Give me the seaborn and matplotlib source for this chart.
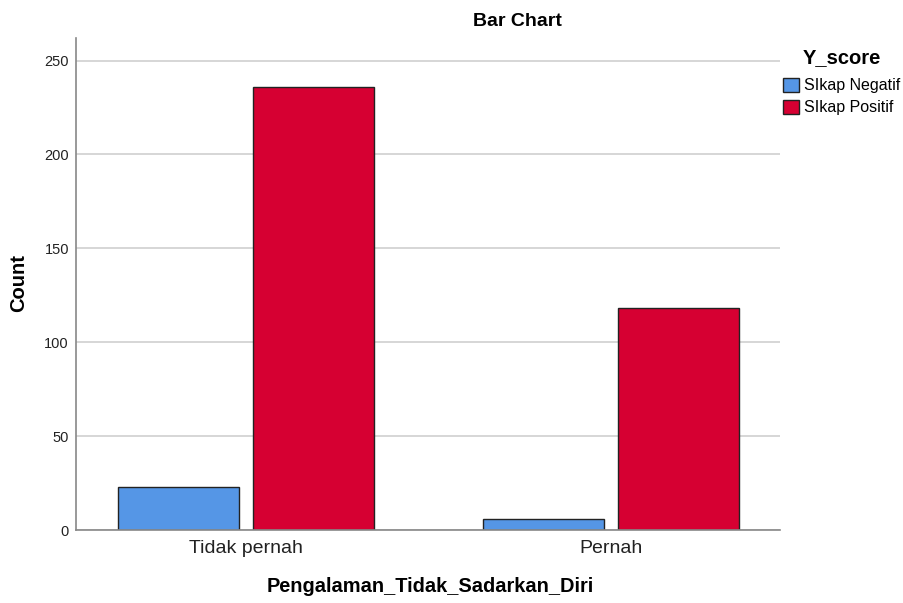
import numpy as np
import pandas as pd
import matplotlib
matplotlib.use('Agg')
import matplotlib.pyplot as plt
import seaborn as sns
from matplotlib.patches import Patch

categories = ['Tidak pernah', 'Pernah']
groups = ['SIkap Negatif', 'SIkap Positif']
negatif = [23, 6]
positif = [236, 118]
colors = ['#5596E6', '#D60032']

df = pd.DataFrame({
    'Pengalaman_Tidak_Sadarkan_Diri': categories * 2,
    'Y_score': [groups[0]] * 2 + [groups[1]] * 2,
    'Count': negatif + positif,
})

sns.set_style('white')
plt.rcParams['font.family'] = ['Liberation Sans', 'DejaVu Sans']
plt.rcParams['text.color'] = 'black'
plt.rcParams['axes.labelcolor'] = 'black'

fig = plt.figure(figsize=(9.04, 6.03), dpi=100)
ax = fig.add_axes([0.084, 0.121, 0.779, 0.816])

sns.barplot(data=df, x='Pengalaman_Tidak_Sadarkan_Diri', y='Count', hue='Y_score',
            palette=colors, saturation=1, width=0.737, gap=0.1, edgecolor='#222222',
            linewidth=1, ax=ax, legend=False)

ax.set_xlim(-0.466, 1.463)
ax.set_ylim(0, 262)
ax.set_yticks([0, 50, 100, 150, 200, 250])
ax.yaxis.grid(True, color='#d0d0d0', linewidth=1.2)
ax.set_axisbelow(True)
for s in ['top', 'right']:
    ax.spines[s].set_visible(False)
for s in ['left', 'bottom']:
    ax.spines[s].set_color('#888888')
    ax.spines[s].set_linewidth(1.2)
ax.tick_params(axis='y', labelsize=10.5, length=0, pad=5, colors='#222222')
ax.tick_params(axis='x', labelsize=14, length=0, pad=7, colors='#222222')
ax.set_ylabel('')
ax.set_xlabel('')

# axis titles and chart title
fig.text(18.5 / 904, 1 - 283.5 / 603, 'Count', rotation=90, ha='center', va='center',
         fontsize=14.5, fontweight='bold')
fig.text(430 / 904, 1 - 586 / 603, 'Pengalaman_Tidak_Sadarkan_Diri', ha='center', va='center',
         fontsize=14.4, fontweight='bold')
fig.text(517 / 904, 1 - 22 / 603, 'Bar Chart', ha='center', va='center', fontsize=14, fontweight='bold')

# legend
fig.text(803 / 904, 1 - 57.5 / 603, 'Y_score', ha='left', va='center', fontsize=14.5, fontweight='bold')
handles = [Patch(facecolor=c, edgecolor='#222222', label=g) for c, g in zip(colors, groups)]
leg = fig.legend(handles=handles, loc='upper left', bbox_to_anchor=(783 / 904, 1 - 78 / 603),
                 frameon=False, fontsize=11.5, borderpad=0, borderaxespad=0,
                 handlelength=1.0, handleheight=0.94, handletextpad=0.3, labelspacing=0.42)

fig.savefig('out.png', dpi=100)
